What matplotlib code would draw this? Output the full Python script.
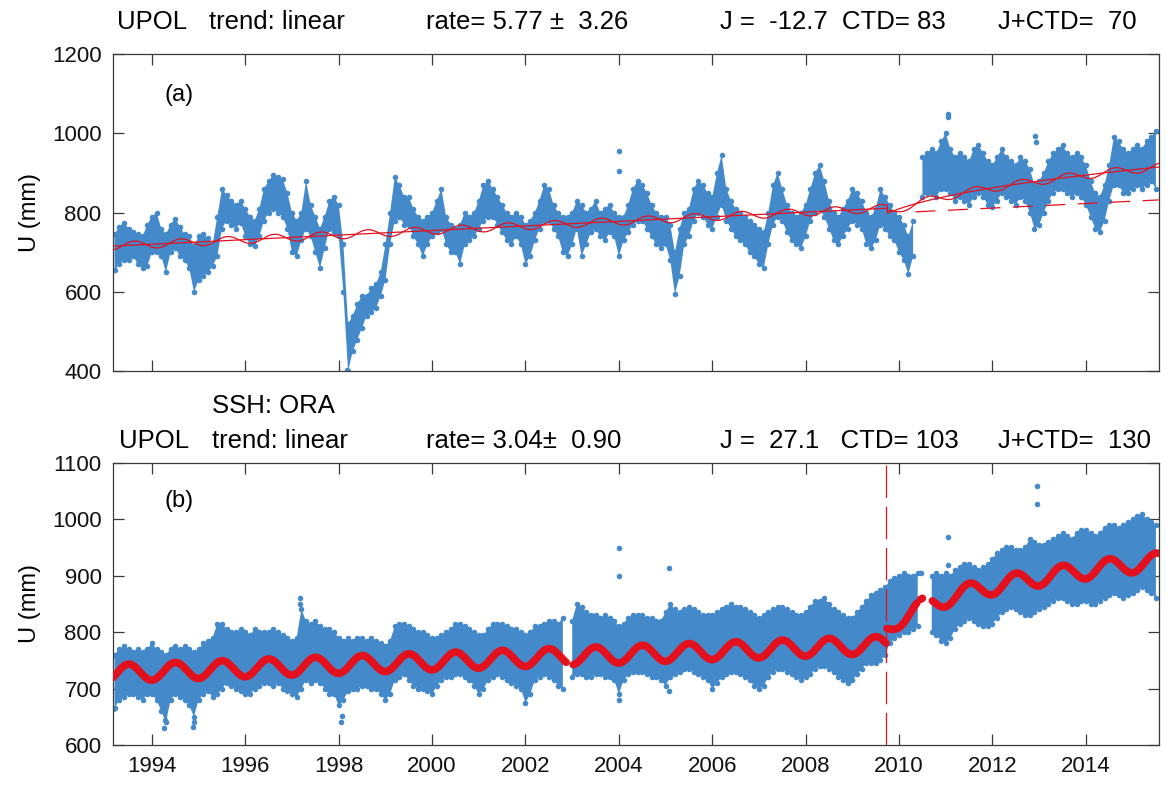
import numpy as np
import matplotlib
matplotlib.use("Agg")
import matplotlib.pyplot as plt

plt.rcParams['font.family'] = ['Liberation Sans', 'DejaVu Sans']

# ---------------------------------------------------------------------------
# Daily GPS vertical positions, summarised every 0.1 yr as the lower / upper
# edge of the daily cloud (mm).  Rows: 1993 (.2-.9), 1994 ... 2014, 2015 (.0-.5)
# ---------------------------------------------------------------------------
times = np.round(np.arange(1993.2, 2015.55, 0.1), 1)
nan = np.nan

a_lo = [655, 670, 680, 680, 690, 670, 660, 665,
        700, 700, 690, 650, 700, 710, 690, 680, 660, 600,
        630, 640, 650, 665, 690, 760, 780, 770, 760, 775,
        740, 720, 715, 740, 780, 800, 810, 800, 790, 760,
        700, 690, 730, 760, 740, 700, 660, 710, 760, 750,
        740, 600, 400, 450, 480, 510, 540, 550, 560, 590,
        630, 720, 780, 790, 770, 770, 740, 720, 690, 720,
        740, 750, 760, 720, 700, 700, 670, 720, 730, 740,
        760, 780, 790, 790, 770, 750, 730, 720, 740, 720,
        670, 690, 730, 760, 780, 780, 760, 740, 700, 690,
        720, 760, 690, 720, 750, 760, 740, 730, 750, 740,
        690, 730, 750, 770, 780, 780, 760, 740, 720, 710,
        720, 680, 595, 640, 720, 740, 780, 800, 790, 770,
        760, 790, 820, 780, 760, 740, 730, 720, 700, 690,
        670, 660, 720, 770, 790, 780, 750, 730, 720, 710,
        740, 780, 800, 810, 790, 760, 730, 720, 740, 760,
        780, 770, 760, 720, 710, 730, 770, 760, 740, 730,
        700, 680, 645, 690, nan, 840, 850, 850, 840, 860,
        860, 850, 830, 840, 830, 820, 840, 850, 840, 820,
        815, 830, 850, 840, 830, 820, 840, 830, 800, 760,
        770, 800, 830, 850, 860, 860, 850, 840, 850, 840,
        820, 790, 760, 750, 780, 830, 870, 870, 850, 850,
        860, 870, 860, 870, 880, 860]

a_hi = [745, 765, 775, 760, 750, 745, 740, 770,
        790, 800, 760, 745, 770, 785, 765, 745, 740, 715,
        740, 745, 735, 720, 790, 860, 845, 830, 820, 830,
        810, 790, 780, 810, 860, 880, 895, 890, 885, 850,
        800, 780, 800, 880, 820, 790, 760, 790, 830, 840,
        820, 720, 520, 540, 570, 590, 590, 610, 620, 650,
        720, 800, 890, 870, 840, 840, 810, 790, 780, 790,
        800, 830, 860, 790, 770, 760, 770, 800, 790, 800,
        830, 870, 880, 860, 840, 820, 800, 790, 800, 790,
        770, 780, 800, 830, 870, 860, 820, 800, 790, 790,
        800, 830, 820, 800, 810, 830, 800, 810, 820, 800,
        790, 790, 820, 860, 880, 870, 850, 820, 800, 790,
        790, 770, 700, 760, 800, 810, 860, 880, 870, 850,
        840, 900, 945, 860, 830, 810, 800, 790, 780, 770,
        760, 750, 800, 870, 900, 860, 820, 800, 790, 800,
        820, 860, 900, 920, 880, 830, 800, 790, 810, 830,
        860, 850, 830, 800, 790, 810, 860, 840, 820, 800,
        790, 770, 740, 780, nan, 940, 950, 960, 950, 980,
        1000, 960, 940, 950, 940, 930, 960, 970, 950, 930,
        920, 940, 960, 940, 930, 920, 940, 930, 910, 870,
        880, 900, 930, 950, 960, 970, 950, 940, 950, 940,
        920, 880, 850, 840, 870, 920, 990, 980, 960, 950,
        960, 970, 960, 980, 990, 1005]

b_lo = [665, 680, 685, 690, 690, 685, 680, 690,
        690, 680, 660, 640, 680, 690, 685, 680, 670, 650,
        680, 690, 695, 685, 690, 700, 710, 705, 700, 695,
        690, 690, 700, 705, 710, 710, 705, 710, 700, 695,
        690, 685, 700, 715, 710, 715, 710, 700, 690, 690,
        670, 680, 695, 700, 700, 705, 705, 700, 700, 690,
        680, 690, 715, 720, 725, 715, 705, 700, 700, 695,
        690, 705, 715, 720, 720, 725, 725, 720, 715, 705,
        690, 700, 715, 720, 725, 720, 715, 710, 705, 700,
        675, 690, 715, 720, 725, 720, 715, 705, 700, nan,
        720, 725, 725, 720, 720, 725, 725, 720, 720, 715,
        690, 715, 725, 730, 730, 730, 725, 720, 720, 715,
        705, 720, 725, 730, 735, 735, 730, 725, 720, 715,
        700, 710, 720, 725, 730, 730, 725, 720, 715, 705,
        700, 705, 720, 730, 735, 735, 730, 725, 720, 715,
        720, 725, 735, 740, 740, 735, 730, 720, 715, 710,
        715, 725, 735, 745, 745, 745, 750, 760, 780, 790,
        795, 800, 800, 805, 810, nan, nan, 800, 795, 785,
        780, 790, 805, 815, 820, 825, 820, 815, 810, 810,
        815, 825, 835, 840, 845, 840, 835, 830, 830, 835,
        840, 845, 850, 855, 860, 860, 855, 850, 850, 855,
        855, 850, 850, 855, 860, 865, 870, 865, 860, 865,
        870, 875, 880, 875, 870, 860]

b_hi = [760, 770, 775, 770, 765, 770, 765, 770,
        780, 770, 765, 760, 770, 775, 770, 775, 770, 765,
        770, 780, 785, 790, 815, 815, 805, 800, 800, 805,
        800, 795, 805, 800, 800, 800, 805, 800, 795, 790,
        785, 790, 840, 820, 815, 820, 810, 805, 805, 800,
        790, 785, 790, 785, 790, 790, 785, 790, 785, 780,
        775, 785, 810, 815, 815, 810, 805, 800, 800, 795,
        790, 790, 795, 800, 805, 815, 815, 810, 805, 800,
        795, 795, 805, 815, 815, 815, 810, 805, 805, 800,
        795, 800, 810, 810, 815, 820, 820, 815, 825, nan,
        820, 850, 845, 835, 830, 830, 825, 830, 825, 820,
        810, 815, 825, 830, 830, 830, 825, 825, 820, 820,
        835, 850, 840, 835, 840, 845, 840, 835, 830, 830,
        830, 835, 840, 845, 850, 845, 845, 840, 835, 830,
        825, 830, 835, 840, 845, 845, 840, 835, 830, 830,
        835, 845, 855, 855, 860, 850, 840, 835, 830, 825,
        825, 835, 845, 855, 865, 870, 875, 880, 890, 895,
        900, 905, 900, 900, 905, nan, nan, 900, 905, 900,
        905, 900, 910, 915, 920, 920, 915, 910, 915, 920,
        930, 940, 945, 950, 950, 945, 945, 950, 965, 960,
        955, 955, 960, 965, 970, 975, 970, 965, 975, 980,
        980, 975, 970, 975, 985, 990, 990, 985, 990, 995,
        1000, 1005, 1010, 1000, 995, 990]

# isolated daily values standing clear of the cloud
a_out_t = [1998.18, 2004.0, 2004.0, 2011.04, 2011.05, 2012.92, 2012.93]
a_out_v = [403, 956, 906, 1049, 1040, 994, 978]
b_out_t = [1993.17, 1994.26, 1994.27, 1994.88, 1994.9, 1997.17, 1997.18,
           1998.05, 1998.06, 2004.0, 2004.0, 2004.0, 2005.07, 2005.08,
           2010.48, 2011.04, 2011.04, 2012.95, 2012.95]
b_out_v = [663, 630, 645, 632, 640, 861, 850, 640, 652, 949, 899, 680,
           695, 913, 905, 969, 919, 1059, 1027]

# fitted model parameters (rate mm/yr, jump J, post-event term CTD)
fit_a = dict(offset=755.0, rate=5.77, jump=-12.7, ctd=83.0, amp=10.0,
             peak=0.62, t_eq=2009.75, tau=1.0)
fit_b = dict(offset=748.0, rate=3.04, jump=27.1, ctd=103.0, amp=15.0,
             peak=0.50, t_eq=2009.73, tau=0.5)
b_gaps = [(2002.87, 2003.02), (2009.72, 2009.74), (2010.38, 2010.46),
          (2010.50, 2010.71)]
dashed_start = 2010.35

x_min, x_max = 1993.16, 2015.56
BLUE = '#448ACA'
RED = '#E3101D'
SPINE = '#3a3a3a'


def model(tt, offset, rate, jump, ctd, amp, peak, t_eq, tau):
    base = offset + rate * (tt - 2000.0)
    ramp = np.log1p(np.clip(tt - t_eq, 0, None) / tau) / np.log1p((x_max - t_eq) / tau)
    trend = base + (tt >= t_eq) * (jump + ctd * ramp)
    season = amp * np.cos(2 * np.pi * (tt - peak))
    return trend, trend + season


W, H = 1166, 787
fig = plt.figure(figsize=(W / 100, H / 100), dpi=100)


def fx(px):
    return px / W


def fy(py):
    return 1 - py / H


ax_a = fig.add_axes([fx(112.7), fy(371.3), fx(1158.7) - fx(112.7), fy(54) - fy(371.3)])
ax_b = fig.add_axes([fx(112.7), fy(745), fx(1158.7) - fx(112.7), fy(462.7) - fy(745)])


def draw_cloud(ax, lo, hi, out_t, out_v):
    lo = np.asarray(lo, float)
    hi = np.asarray(hi, float)
    ax.fill_between(times, lo, hi, color=BLUE, lw=0, zorder=2)
    ax.scatter(times, lo, s=16, color=BLUE, lw=0, zorder=2)
    ax.scatter(times, hi, s=16, color=BLUE, lw=0, zorder=2)
    ax.scatter(out_t, out_v, s=16, color=BLUE, lw=0, zorder=2)


draw_cloud(ax_a, a_lo, a_hi, a_out_t, a_out_v)
draw_cloud(ax_b, b_lo, b_hi, b_out_t, b_out_v)

# panel (a): trend, trend + annual term, and trend without the post-event term
tt = np.arange(x_min, x_max, 1 / 365.25)
trend_a, full_a = model(tt, **fit_a)
ax_a.plot(tt, trend_a, color=RED, lw=0.9, zorder=3)
ax_a.plot(tt, full_a, color=RED, lw=0.9, zorder=3)
td = tt[tt >= dashed_start]
ax_a.plot(td, fit_a['offset'] + fit_a['rate'] * (td - 2000.0) + fit_a['jump'],
          color=RED, lw=0.9, ls=(0, (16, 10)), zorder=3)

# panel (b): ocean-corrected model, broken where there are no data
trend_b, full_b = model(tt, **fit_b)
for g0, g1 in b_gaps:
    full_b[(tt > g0) & (tt < g1)] = np.nan
ax_b.plot(tt, full_b, color=RED, lw=5.5, solid_capstyle='round', zorder=3)
ax_b.axvline(fit_b['t_eq'], color=RED, lw=0.9, ls=(0, (26, 7)), zorder=3)

year_ticks = np.arange(1994, 2015, 2)
for ax, ylim, yt in ((ax_a, (400, 1200), np.arange(400, 1201, 200)),
                     (ax_b, (600, 1100), np.arange(600, 1101, 100))):
    ax.set_xlim(x_min, x_max)
    ax.set_ylim(*ylim)
    ax.set_xticks(year_ticks)
    ax.set_yticks(yt)
    ax.tick_params(direction='in', length=8, width=0.9, color=SPINE,
                   top=True, right=True, labelsize=16, pad=8, labelcolor='#111111')
    for sp in ax.spines.values():
        sp.set_color(SPINE)
        sp.set_linewidth(0.9)
ax_a.tick_params(labelbottom=False)

# header lines
TS = 18.5
fig.text(fx(117), fy(29.3), 'UPOL', fontsize=TS, va='baseline')
fig.text(fx(208.6), fy(29.3), 'trend: linear', fontsize=TS, va='baseline')
fig.text(fx(426), fy(29.3), 'rate= 5.77 \u00b1  3.26', fontsize=TS, va='baseline')
fig.text(fx(720), fy(29.3), 'J =  -12.7  CTD= 83', fontsize=TS, va='baseline')
fig.text(fx(998), fy(29.3), 'J+CTD=  70', fontsize=TS, va='baseline')

fig.text(fx(212.4), fy(413.3), 'SSH: ORA', fontsize=TS, va='baseline')
fig.text(fx(119.4), fy(448.3), 'UPOL', fontsize=TS, va='baseline')
fig.text(fx(212.4), fy(448.3), 'trend: linear', fontsize=TS, va='baseline')
fig.text(fx(426), fy(448.3), 'rate= 3.04\u00b1  0.90', fontsize=TS, va='baseline')
fig.text(fx(720), fy(448.3), 'J =  27.1   CTD= 103', fontsize=TS, va='baseline')
fig.text(fx(998), fy(448.3), 'J+CTD=  130', fontsize=TS, va='baseline')

fig.text(fx(164.6), fy(100.5), '(a)', fontsize=17, va='baseline')
fig.text(fx(164.6), fy(507), '(b)', fontsize=17, va='baseline')

for yc in ((54 + 371.3) / 2, (462.7 + 745) / 2):
    fig.text(fx(30), fy(yc), 'U (mm)', fontsize=17, rotation=90,
             ha='center', va='center')

fig.savefig('out.png', dpi=100)
